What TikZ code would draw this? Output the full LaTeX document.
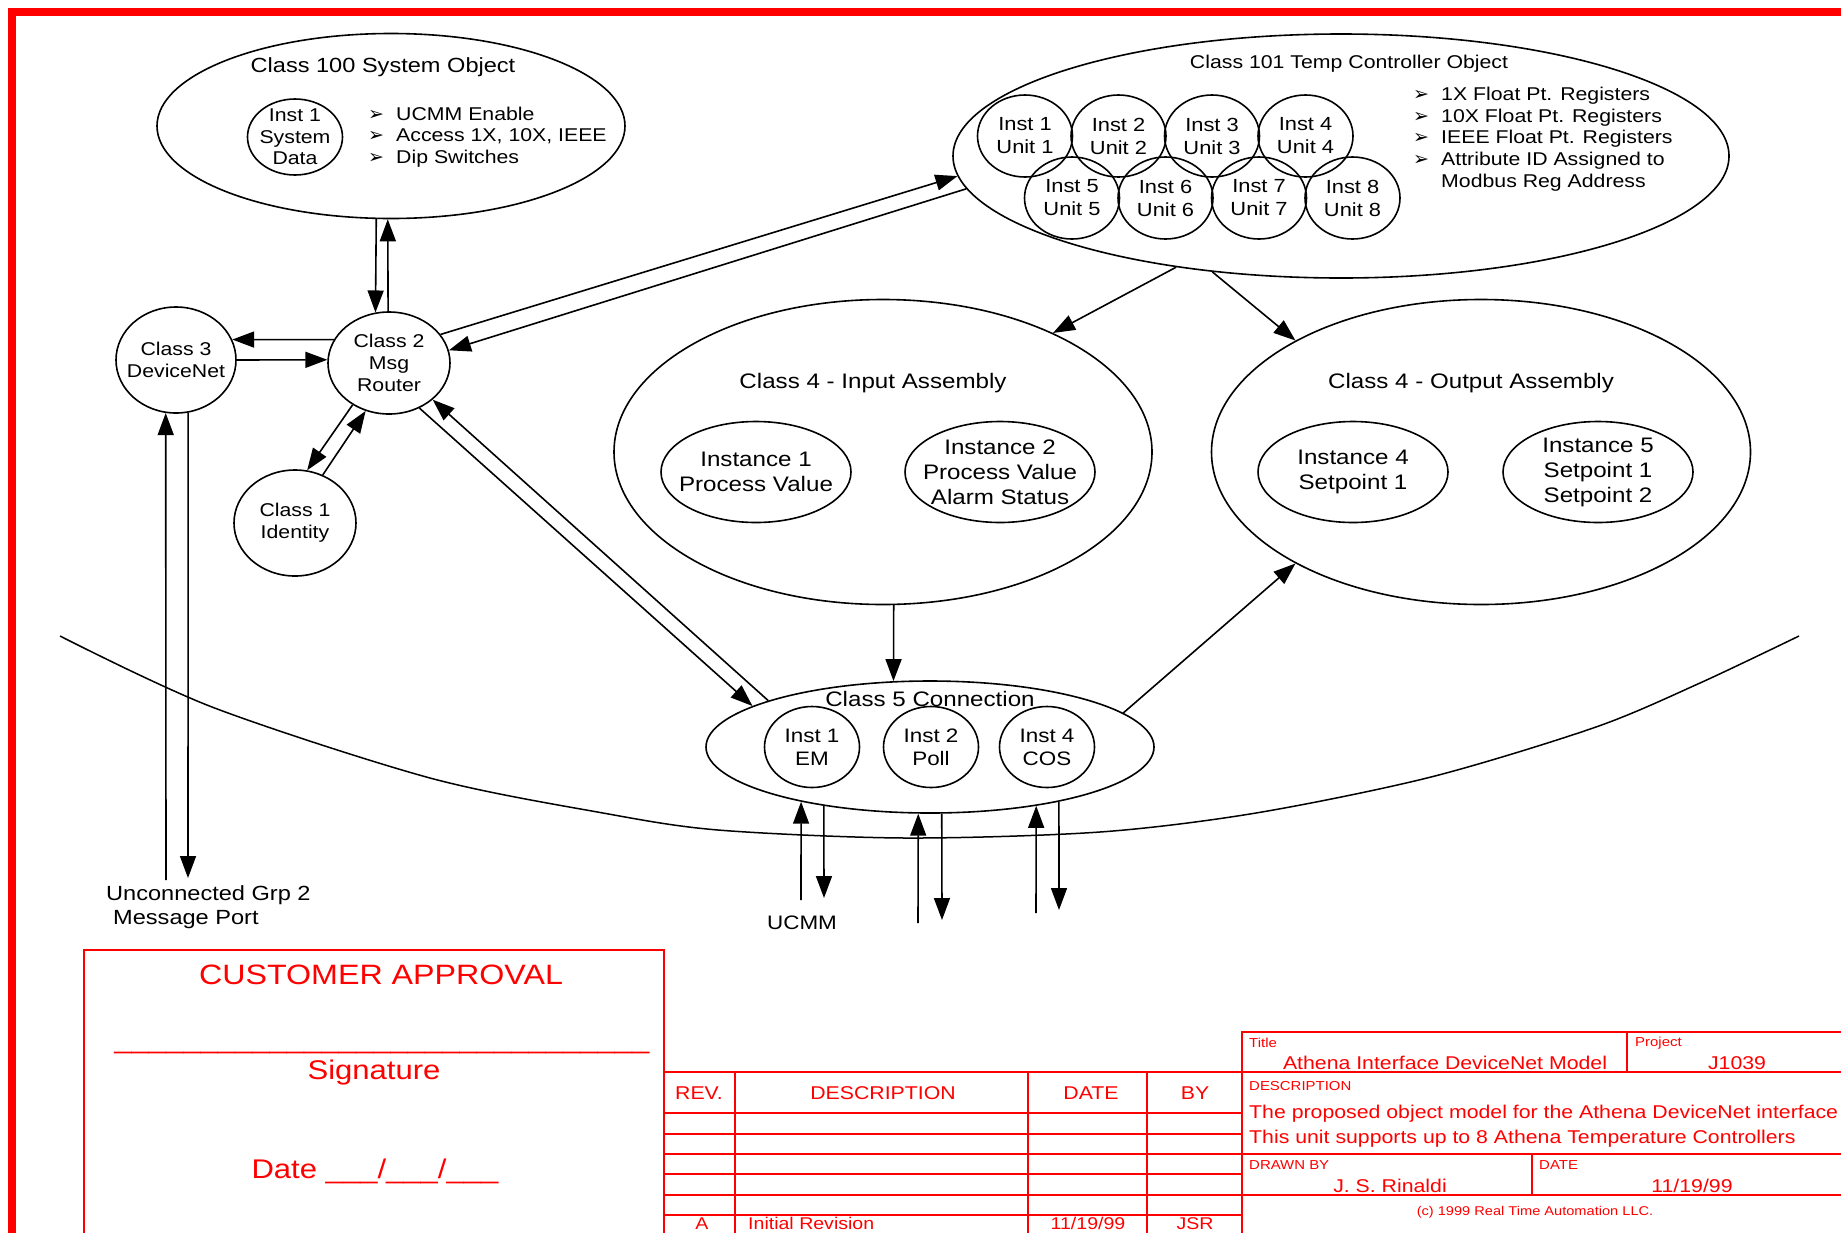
\documentclass[tikz,border=0pt]{standalone}
\usepackage{fontspec}
\setmainfont{Liberation Sans}[FakeStretch=1.15]
\newfontfamily\dingfont{DejaVu Sans}
\usetikzlibrary{shapes.geometric, arrows.meta}

\newcommand{\fsm}{\fontsize{18.5}{22}\selectfont}
\newcommand{\fmd}{\fontsize{19.5}{23}\selectfont}
\newcommand{\fbg}{\fontsize{21}{25.5}\selectfont}
\newcommand{\fred}{\fontsize{18.5}{22}\selectfont}
\newcommand{\ftiny}{\fontsize{13}{13}\selectfont}
\newcommand{\bul}{\makebox[28pt][l]{\dingfont\fontsize{19}{19}\selectfont ➢}}

\tikzstyle{classobj} = [ellipse, draw=black, line width=1.6pt, inner sep=0pt]
\tikzstyle{inst} = [ellipse, draw=black, line width=1.6pt, inner sep=-15pt, align=center, font=\fsm, minimum width=95pt, minimum height=82pt]
\tikzstyle{instbig} = [ellipse, draw=black, line width=1.6pt, inner sep=-15pt, align=center, font=\fbg, minimum width=190pt, minimum height=101pt]
\tikzstyle{objtext} = [inner sep=0pt, align=center, font=\fsm]
\tikzstyle{bullets} = [inner sep=0pt, align=left, anchor=west, font=\fsm]
\tikzstyle{arrow} = [line width=1.6pt, -{Triangle[length=22pt, width=16pt]}]
\tikzstyle{wire} = [line width=1.5pt]
\tikzstyle{redframe} = [draw=red, line width=8pt]
\tikzstyle{redline} = [draw=red, line width=2.5pt]
\tikzstyle{redtext} = [text=red, inner sep=0pt, font=\fred]
\tikzstyle{redsmall} = [text=red, inner sep=0pt, anchor=west, font=\ftiny]

\begin{document}
\begin{tikzpicture}[x=1pt, y=-1pt, node distance=93.5pt]
\useasboundingbox (0,0) rectangle (1841,1232);

\draw [redframe] (11.6,1260) -- (11.6,12) -- (1870,12);

% system object
\node (c100) [classobj, minimum width=468pt, minimum height=185pt] at (391,126) {};
\node (c100t) [objtext, font=\fontsize{20.5}{24}\selectfont] at (383,67) {Class 100 System Object};
\node (sys) [inst, minimum height=76pt, font=\fontsize{18.5}{21.5}\selectfont] at (295,137) {Inst 1\\System\\Data};
\node (sysb) [bullets, font=\fontsize{18.5}{21.5}\selectfont] at (368,137) {\bul UCMM Enable\\\bul Access 1X, 10X, IEEE\\\bul Dip Switches};

% temp controller object
\node (c101) [classobj, minimum width=776pt, minimum height=244pt] at (1341,156) {};
\node (c101t) [objtext] at (1349,64) {Class 101 Temp Controller Object};
\node (u1) [inst, font=\fontsize{19}{23}\selectfont] at (1025,136) {Inst 1\\Unit 1};
\node (u2) [inst, font=\fontsize{19}{23}\selectfont, right of=u1] {Inst 2\\Unit 2};
\node (u3) [inst, font=\fontsize{19}{23}\selectfont, right of=u2] {Inst 3\\Unit 3};
\node (u4) [inst, font=\fontsize{19}{23}\selectfont, right of=u3] {Inst 4\\Unit 4};
\node (u5) [inst, font=\fontsize{19}{23}\selectfont] at (1072,198) {Inst 5\\Unit 5};
\node (u6) [inst, font=\fontsize{19}{23}\selectfont, right of=u5] {Inst 6\\Unit 6};
\node (u7) [inst, font=\fontsize{19}{23}\selectfont, right of=u6] {Inst 7\\Unit 7};
\node (u8) [inst, font=\fontsize{19}{23}\selectfont, right of=u7] {Inst 8\\Unit 8};
\node (c101b) [bullets, font=\fontsize{18.5}{21.7}\selectfont] at (1413,139) {\bul 1X Float Pt. Registers\\\bul 10X Float Pt. Registers\\\bul IEEE Float Pt. Registers\\\bul Attribute ID Assigned to\\\makebox[28pt]{}Modbus Reg Address};

% router, devicenet, identity
\node (c2) [inst, minimum width=122pt, minimum height=102pt] at (389,363) {Class 2\\Msg\\Router};
\node (c3) [inst, minimum width=120pt, minimum height=106pt] at (176,360) {Class 3\\DeviceNet};
\node (c1) [inst, minimum width=122pt, minimum height=106pt] at (295,523) {Class 1\\Identity};

% assemblies
\node (c4in) [classobj, minimum width=538pt, minimum height=305pt] at (883,452) {};
\node (c4int) [objtext, font=\fbg] at (873,383) {Class 4 - Input Assembly};
\node (in1) [instbig] at (756,472) {Instance 1\\Process Value};
\node (in2) [instbig, font=\fontsize{21}{25}\selectfont] at (1000,472) {Instance 2\\Process Value\\Alarm Status};

\node (c4out) [classobj, minimum width=539pt, minimum height=305pt] at (1481,452) {};
\node (c4outt) [objtext, font=\fbg] at (1471,383) {Class 4 - Output Assembly};
\node (out4) [instbig] at (1353,472) {Instance 4\\Setpoint 1};
\node (out5) [instbig, font=\fontsize{21}{25}\selectfont] at (1598,472) {Instance 5\\Setpoint 1\\Setpoint 2};

% connection object
\node (c5) [classobj, minimum width=448pt, minimum height=132pt] at (930,747) {};
\node (c5t) [objtext, font=\fbg] at (930,699) {Class 5 Connection};
\node (em) [inst, minimum height=81pt, font=\fmd] at (812,747) {Inst 1\\EM};
\node (poll) [inst, minimum height=81pt, font=\fmd] at (931,747) {Inst 2\\Poll};
\node (cos) [inst, minimum height=81pt, font=\fmd] at (1047,747) {Inst 4\\COS};

\node (port) [objtext, align=left, anchor=west, font=\fontsize{20.5}{24}\selectfont] at (106,907) {Unconnected Grp 2\\\hspace*{7pt}Message Port};
\node (ucmm) [objtext, font=\fmd] at (802,923) {UCMM};

\coordinate (portup) at (166,880);
\coordinate (portdn) at (188,878);
\coordinate (emup) at (801,900);
\coordinate (emdn) at (824,898);
\coordinate (pollup) at (918,923);
\coordinate (polldn) at (942,920);
\coordinate (cosup) at (1036,913);
\coordinate (cosdn) at (1059,910);

\draw [wire] plot [smooth] coordinates {(60,636) (212,707) (430,778) (603,813) (718,830) (905,838) (1100,832) (1256,813) (1431,777) (1596,727) (1700,683) (1799,636)};

\draw [arrow] (c100.261) -- (c2.105);
\draw [arrow] (c2.91) -- (c100.268);
\draw [arrow] (c2.157) -- (c3.20);
\draw [arrow] (c3.0) -- (c2.177);
\draw [arrow] (c2.229) -- (c1.77);
\draw [arrow] (c1.60) -- (c2.244);
\draw [arrow] (c2.29) -- (c101.183);
\draw [arrow] (c101.185) -- (c2.12);
\draw [arrow] (c2.304) -- (c5.167);
\draw [arrow] (c5.164) -- (c2.320);
\draw [arrow] (c101.214) -- (c4in.35);
\draw [arrow] (c101.222) -- (c4out.149);
\draw [arrow] (c4in.274) -- (c5.119);
\draw [arrow] (c5.10) -- (c4out.211);

\draw [arrow] (portup) -- (c3.259);
\draw [arrow] (c3.283) -- (portdn);
\draw [arrow] (emup) -- (c5.203);
\draw [arrow] (c5.209) -- (emdn);
\draw [arrow] (pollup) -- (c5.260);
\draw [arrow] (c5.280) -- (polldn);
\draw [arrow] (cosup) -- (c5.331);
\draw [arrow] (c5.337) -- (cosdn);

% approval box
\draw [redline] (84,1260) -- (84,950) -- (664,950) -- (664,1260);
\node (cust) [redtext, font=\fontsize{28}{28}\selectfont] at (381,975) {CUSTOMER APPROVAL};
\node (sigline) [redtext, anchor=base, font=\fontsize{27}{27}\selectfont] at (382,1048) {\_\_\_\_\_\_\_\_\_\_\_\_\_\_\_\_\_\_\_\_\_\_\_\_\_\_\_\_\_\_\_};
\node (sig) [redtext, font=\fontsize{27}{27}\selectfont] at (374,1073) {Signature};
\node (date) [redtext, font=\fontsize{27}{27}\selectfont] at (375,1171) {Date \_\_\_/\_\_\_/\_\_\_};

% revision table
\draw [redline] (664,1072) -- (1870,1072);
\draw [redline] (664,1113) -- (1242,1113);
\draw [redline] (664,1134) -- (1242,1134);
\draw [redline] (664,1154) -- (1870,1154);
\draw [redline] (664,1174) -- (1242,1174);
\draw [redline] (664,1195) -- (1870,1195);
\draw [redline] (664,1215) -- (1242,1215);
\draw [redline] (735,1072) -- (735,1260);
\draw [redline] (1028,1072) -- (1028,1260);
\draw [redline] (1147,1072) -- (1147,1260);
\node (rev) [redtext] at (699,1093) {REV.};
\node (desc) [redtext] at (883,1093) {DESCRIPTION};
\node (rdate) [redtext] at (1091,1093) {DATE};
\node (by) [redtext] at (1195,1093) {BY};
\node (reva) [redtext, font=\fontsize{17}{17}\selectfont] at (702,1223.5) {A};
\node (desca) [redtext, anchor=west, font=\fontsize{17}{17}\selectfont] at (748,1223.5) {Initial Revision};
\node (datea) [redtext, font=\fontsize{17}{17}\selectfont] at (1088,1223.5) {11/19/99};
\node (bya) [redtext, font=\fontsize{17}{17}\selectfont] at (1195,1223.5) {JSR};

% title block
\draw [redline] (1242,1260) -- (1242,1032) -- (1870,1032);
\draw [redline] (1627,1032) -- (1627,1072);
\draw [redline] (1532,1154) -- (1532,1195);
\node (ttl) [redsmall] at (1249,1043) {Title};
\node (ttlv) [redtext] at (1445,1063) {Athena Interface DeviceNet Model};
\node (prj) [redsmall] at (1635,1043) {Project};
\node (prjv) [redtext] at (1737,1063) {J1039};
\node (dsc) [redsmall] at (1249,1086) {DESCRIPTION};
\node (dsc1) [redtext, anchor=west] at (1249,1114) {The proposed object model for the Athena DeviceNet interface};
\node (dsc2) [redtext, anchor=west] at (1249,1139) {This unit supports up to 8 Athena Temperature Controllers};
\node (drw) [redsmall] at (1249,1165) {DRAWN BY};
\node (drwv) [redtext] at (1390,1186) {J. S. Rinaldi};
\node (dt) [redsmall] at (1539,1165) {DATE};
\node (dtv) [redtext] at (1692,1186) {11/19/99};
\node (copy) [redtext, font=\fontsize{12.7}{13}\selectfont] at (1535,1212) {(c) 1999 Real Time Automation LLC.};

\end{tikzpicture}
\end{document}
